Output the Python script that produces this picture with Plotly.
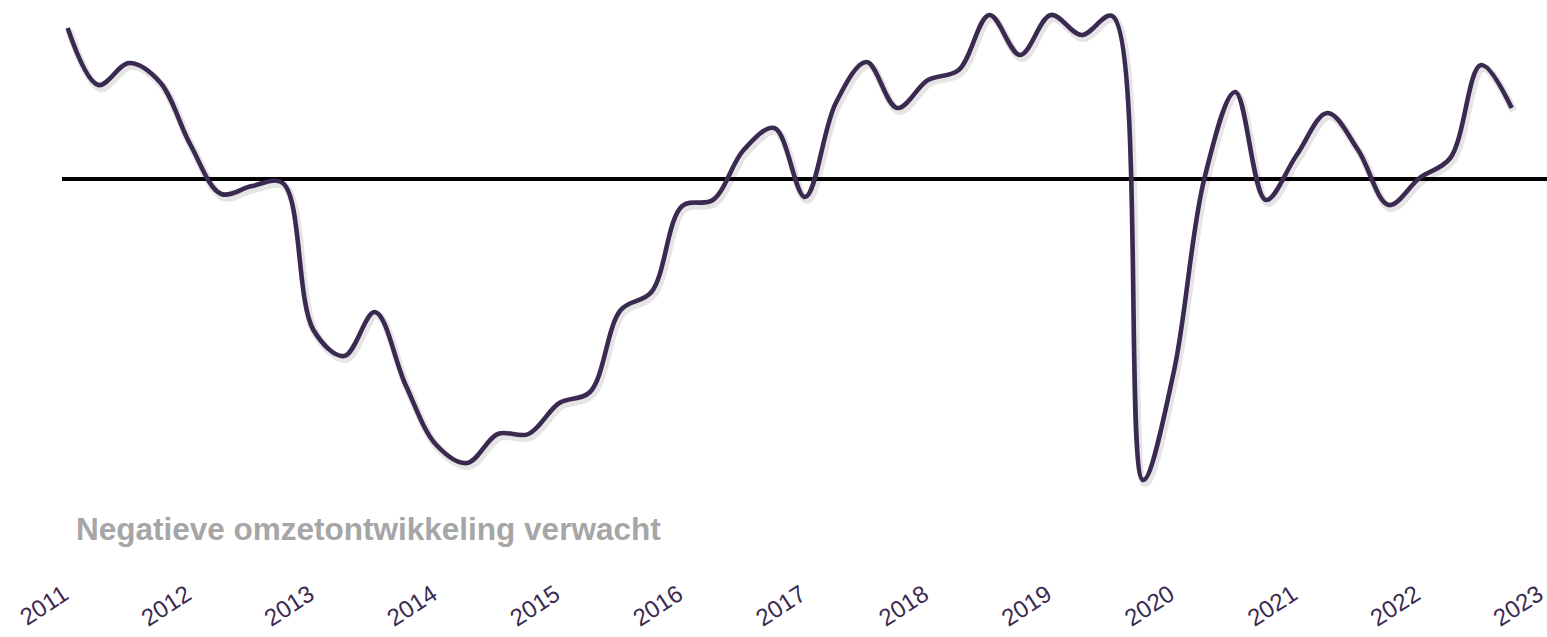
import plotly.graph_objects as go

# Quarterly series, 2011 Q1 .. 2022 Q4 (arbitrary saldo units)
start_year = 2011
quarters_per_year = 4
values = [
    15.1, 9.4, 11.6, 9.7,
    3.4, -1.5, -0.7, -0.4,
    -15.1, -17.7, -13.3, -20.6,
    -26.6, -28.4, -25.5, -25.5,
    -22.4, -21.3, -13.1, -11.3,
    -2.7, -2.1, 2.9, 5.1,
    -1.8, 7.6, 11.7, 7.1,
    9.9, 10.9, 16.4, 12.4,
    16.4, 14.4, 16.3, -30.1,
    -19.3, 0.1, 8.7, -2.1,
    2.4, 6.6, 2.9, -2.6,
    0.1, 2.1, 11.4, 7.1,
]
x_vals = [start_year + i / quarters_per_year for i in range(len(values))]

tick_years = list(range(2011, 2024))
tick_labels = [str(y) for y in tick_years]

note_text = "Negatieve omzetontwikkeling verwacht"

LINE_COLOR = "#3b2a50"
TEXT_GREY = "#a6a6a6"

W, H = 1547, 637
ML, MR, MT, MB = 62, 0, 0, 62
PW, PH = W - ML - MR, H - MT - MB

fig = go.Figure()

# soft shadow under the line
fig.add_trace(go.Scatter(
    x=[v + 0.015 for v in x_vals], y=[v - 0.3 for v in values],
    mode="lines", line=dict(color="rgba(0,0,0,0.10)", width=8, shape="spline", smoothing=1.0),
    hoverinfo="skip", showlegend=False,
))
fig.add_trace(go.Scatter(
    x=x_vals, y=values, mode="lines",
    line=dict(color=LINE_COLOR, width=4.6, shape="spline", smoothing=1.0),
    showlegend=False,
))

fig.add_annotation(
    text="<b>" + note_text + "</b>",
    xref="paper", yref="paper",
    x=(74 - ML) / PW, y=(575 - 529) / PH,
    xanchor="left", yanchor="middle", showarrow=False,
    font=dict(family="Liberation Sans, Arial, sans-serif", size=31.5, color=TEXT_GREY),
)

fig.update_layout(
    width=W, height=H,
    margin=dict(l=ML, r=MR, t=MT, b=MB, autoexpand=False),
    paper_bgcolor="white", plot_bgcolor="white",
    xaxis=dict(
        range=[2010.954, 2023.037], automargin=False,
        tickmode="array", tickvals=tick_years, ticktext=tick_labels,
        tickangle=-33, showgrid=False, zeroline=False, showline=False,
        ticks="", ticklabeloverflow="allow", ticklabelshift=-4,
        tickfont=dict(family="Liberation Sans, Arial, sans-serif", size=24, color=LINE_COLOR),
    ),
    yaxis=dict(
        range=[-39.6, 17.9], automargin=False, showgrid=False, showticklabels=False,
        zeroline=True, zerolinecolor="black", zerolinewidth=4, showline=False, ticks="",
    ),
)

fig.write_html(
    "out.html",
    config={"displayModeBar": False},
    post_script="document.body.style.margin='0';document.body.style.overflow='hidden';",
)
